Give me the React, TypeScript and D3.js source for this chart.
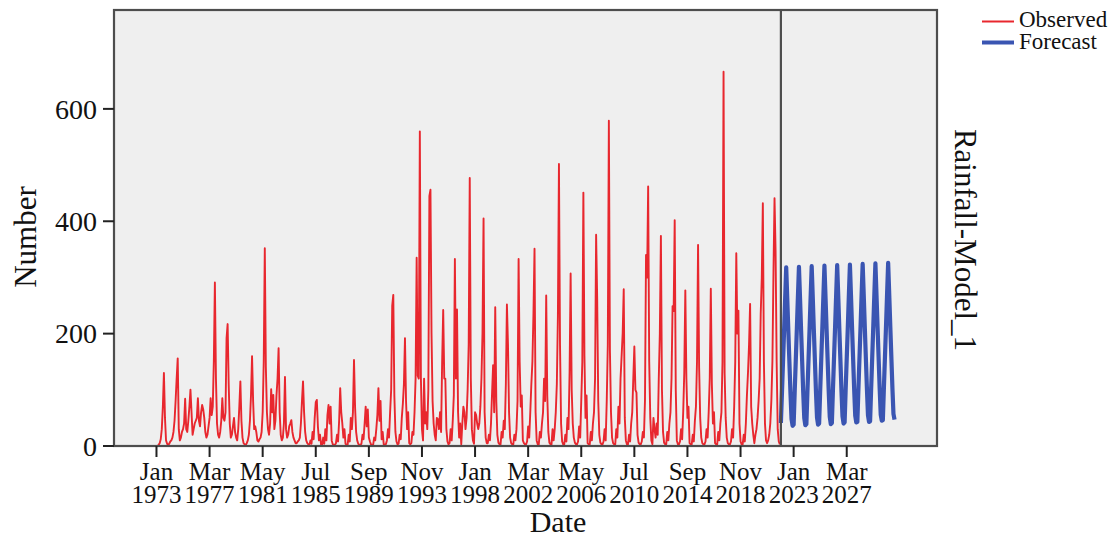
import React from 'react';
import * as d3 from 'd3';

// ряды по годам (Jan..Dec)
const observedStartYear = 1973;
const observedMonthly = [
  [0, 0, 2, 5, 12, 30, 70, 130, 50, 10, 4, 2],
  [4, 8, 10, 15, 25, 45, 80, 120, 156, 30, 10, 15],
  [25, 30, 40, 84, 30, 25, 45, 70, 100, 60, 20, 30],
  [40, 45, 50, 85, 45, 35, 60, 73, 65, 50, 25, 15],
  [20, 35, 50, 85, 55, 70, 150, 291, 120, 40, 20, 15],
  [25, 45, 85, 50, 45, 60, 192, 217, 110, 40, 15, 20],
  [35, 50, 25, 15, 10, 30, 70, 115, 45, 15, 5, 3],
  [2, 5, 10, 20, 45, 90, 160, 80, 30, 35, 25, 10],
  [8, 12, 15, 25, 60, 150, 352, 140, 60, 30, 20, 40],
  [101, 60, 91, 30, 45, 90, 120, 174, 60, 20, 10, 15],
  [40, 123, 30, 15, 20, 35, 40, 46, 25, 15, 10, 5],
  [5, 8, 10, 15, 40, 80, 115, 60, 25, 10, 5, 3],
  [2, 10, 4, 25, 12, 50, 78, 82, 35, 10, 20, 2],
  [2, 15, 4, 30, 10, 55, 73, 40, 70, 10, 3, 2],
  [2, 5, 20, 8, 45, 103, 60, 40, 15, 30, 4, 2],
  [2, 20, 8, 50, 30, 60, 153, 70, 25, 10, 4, 2],
  [2, 4, 20, 12, 40, 70, 35, 65, 15, 8, 3, 1],
  [2, 15, 10, 30, 55, 103, 45, 80, 12, 25, 3, 2],
  [3, 10, 30, 15, 60, 100, 250, 269, 90, 25, 8, 3],
  [4, 20, 12, 50, 75, 110, 192, 80, 30, 60, 5, 3],
  [5, 25, 20, 60, 120, 335, 125, 120, 560, 121, 30, 10],
  [120, 40, 60, 30, 100, 445, 456, 200, 80, 40, 20, 10],
  [50, 48, 30, 60, 25, 150, 242, 120, 120, 30, 8, 3],
  [5, 30, 10, 45, 90, 333, 120, 243, 60, 15, 40, 3],
  [40, 70, 60, 30, 50, 100, 180, 477, 120, 30, 10, 4],
  [60, 55, 40, 30, 40, 70, 120, 200, 405, 60, 15, 5],
  [5, 20, 10, 40, 94, 144, 60, 247, 80, 20, 6, 3],
  [3, 25, 15, 45, 30, 110, 252, 180, 60, 15, 5, 3],
  [3, 20, 10, 30, 80, 333, 150, 70, 90, 10, 5, 3],
  [3, 8, 35, 15, 60, 110, 150, 236, 351, 60, 10, 3],
  [3, 25, 15, 40, 60, 120, 80, 268, 90, 25, 6, 3],
  [3, 30, 10, 30, 60, 110, 230, 502, 180, 40, 8, 3],
  [3, 20, 8, 50, 30, 130, 307, 100, 40, 15, 6, 3],
  [3, 8, 35, 15, 80, 150, 451, 160, 50, 90, 5, 3],
  [3, 25, 10, 40, 60, 120, 376, 263, 80, 20, 6, 3],
  [3, 8, 30, 10, 80, 180, 579, 170, 60, 15, 5, 3],
  [3, 30, 15, 70, 40, 120, 160, 200, 279, 50, 10, 3],
  [3, 20, 8, 40, 60, 120, 177, 100, 95, 20, 6, 3],
  [3, 8, 25, 15, 80, 340, 300, 462, 150, 50, 10, 3],
  [50, 30, 15, 40, 20, 120, 200, 374, 100, 25, 6, 3],
  [3, 25, 10, 40, 60, 120, 249, 240, 402, 100, 10, 3],
  [3, 8, 30, 12, 60, 130, 277, 120, 50, 70, 5, 3],
  [3, 20, 8, 45, 70, 150, 358, 140, 50, 15, 5, 3],
  [3, 8, 30, 15, 60, 120, 280, 110, 40, 60, 5, 3],
  [3, 25, 10, 40, 60, 150, 666, 130, 50, 15, 5, 3],
  [3, 8, 30, 15, 70, 150, 343, 200, 241, 40, 8, 3],
  [3, 20, 8, 40, 90, 130, 180, 253, 70, 40, 20, 5],
  [20, 30, 50, 80, 120, 236, 300, 432, 150, 40, 10, 5],
  [10, 20, 40, 80, 150, 308, 441, 346, 150, 30, 8, 3],
];

const forecastStartYear = 2022;
const forecastMonthly = [
  [41, 95, 150, 205, 262, 318, 262, 205, 150, 95, 48, 36],
  [38, 97, 152, 207, 264, 319, 264, 207, 152, 97, 50, 37],
  [39, 98, 153, 208, 265, 320, 265, 208, 153, 98, 51, 38],
  [40, 99, 154, 209, 266, 321, 266, 209, 154, 99, 52, 39],
  [41, 100, 155, 210, 267, 322, 267, 210, 155, 100, 53, 40],
  [42, 101, 156, 211, 268, 323, 268, 211, 156, 101, 54, 42],
  [43, 102, 157, 212, 269, 324, 269, 212, 157, 102, 55, 43],
  [44, 103, 158, 213, 270, 325, 270, 213, 158, 103, 56, 45],
  [46, 104, 159, 214, 271, 326, 271, 214, 159, 104, 57, 47],
];

const monthNames = ['Jan', 'Feb', 'Mar', 'Apr', 'May', 'Jun', 'Jul', 'Aug', 'Sep', 'Oct', 'Nov', 'Dec'];
const tickMonths = ['Jan', 'Mar', 'May', 'Jul', 'Sep', 'Nov', 'Jan', 'Mar', 'May', 'Jul', 'Sep', 'Nov', 'Jan', 'Mar'];
const tickYears = [1973, 1977, 1981, 1985, 1989, 1993, 1998, 2002, 2006, 2010, 2014, 2018, 2023, 2027];
const yTicks = [0, 200, 400, 600];

const W = 1119;
const H = 540;
const plot = { left: 114, top: 10, right: 937, bottom: 446 };
const serif = '"Liberation Serif", "Times New Roman", serif';

const RED = '#e8272e';
const BLUE = '#3a55b2';

type Pt = { t: number; v: number };

const toIndex = (year: number, month: number) => (year - observedStartYear) * 12 + month;

const App = () => {
  // шкала по номеру месяца от Jan 1973
  const x = d3.scaleLinear().domain([-40, 735]).range([plot.left, plot.right]);
  const y = d3.scaleLinear().domain([0, 776]).range([plot.bottom, plot.top]);

  const observed: Pt[] = observedMonthly.flatMap((row, i) =>
    row.map((v, m) => ({ t: toIndex(observedStartYear + i, m), v }))
  );
  const forecast: Pt[] = forecastMonthly.flatMap((row, i) =>
    row.map((v, m) => ({ t: toIndex(forecastStartYear + i, m), v }))
  );

  const line = d3.line<Pt>().x(d => x(d.t)).y(d => y(d.v));

  const ticks = tickYears.map((yr, i) => ({
    label: tickMonths[i],
    year: yr,
    t: toIndex(yr, monthNames.indexOf(tickMonths[i])),
  }));

  const splitX = x(toIndex(forecastStartYear, 0));

  return (
    <div style={{ position: 'absolute', left: 0, top: 0 }}>
      <svg width={W} height={H} style={{ display: 'block', background: '#fff' }} fontFamily={serif}>
        <rect x={plot.left} y={plot.top} width={plot.right - plot.left} height={plot.bottom - plot.top}
          fill="#efefef" />

        <path d={line(observed) || ''} fill="none" stroke={RED} strokeWidth={1.9} strokeLinejoin="round" />
        <path d={line(forecast) || ''} fill="none" stroke={BLUE} strokeWidth={4.2} strokeLinejoin="round" />

        <line x1={splitX} x2={splitX} y1={plot.top} y2={plot.bottom} stroke="#4d4d4d" strokeWidth={2.2} />

        <rect x={plot.left} y={plot.top} width={plot.right - plot.left} height={plot.bottom - plot.top}
          fill="none" stroke="#4d4d4d" strokeWidth={2.2} />

        {/* ось Y */}
        {yTicks.map(v => (
          <g key={v}>
            <line x1={plot.left - 11} x2={plot.left} y1={y(v)} y2={y(v)} stroke="#222" strokeWidth={2} />
            <text x={plot.left - 17} y={y(v)} dy="0.35em" textAnchor="end" fontSize={28} fill="#111">{v}</text>
          </g>
        ))}

        {/* ось X: месяц и год в одной подписи */}
        {ticks.map((d, i) => (
          <g key={i} transform={`translate(${x(d.t)},0)`}>
            <line y1={plot.bottom} y2={plot.bottom + 11} stroke="#222" strokeWidth={2} />
            <text y={480} textAnchor="middle" fontSize={25} fill="#111">
              <tspan x={0}>{d.label}</tspan>
              <tspan x={0} dy={23}>{d.year}</tspan>
            </text>
          </g>
        ))}

        <text x={558} y={532} textAnchor="middle" fontSize={30} fill="#111">Date</text>
        <text transform={`translate(36,237) rotate(-90)`} textAnchor="middle" fontSize={31} fill="#111">Number</text>
        <text transform={`translate(955,240) rotate(90)`} textAnchor="middle" fontSize={31} fill="#111">Rainfall-Model_1</text>

        {/* легенда */}
        <line x1={982} x2={1014} y1={21.5} y2={21.5} stroke={RED} strokeWidth={2} />
        <text x={1019} y={27} fontSize={23} fill="#111">Observed</text>
        <line x1={982} x2={1014} y1={42.5} y2={42.5} stroke={BLUE} strokeWidth={4} />
        <text x={1019} y={49} fontSize={23} fill="#111">Forecast</text>
      </svg>
    </div>
  );
};

export default App;
